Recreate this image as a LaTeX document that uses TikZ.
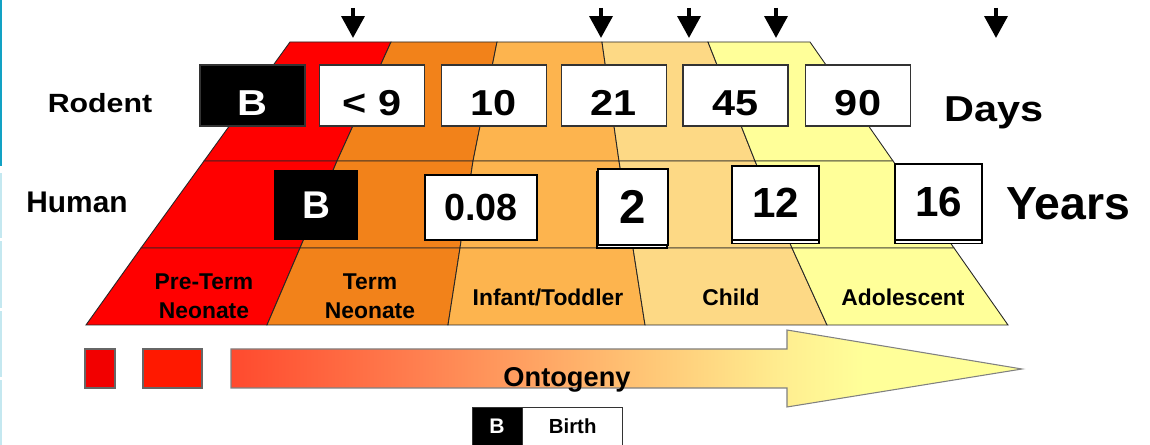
\documentclass[tikz,border=0pt]{standalone}
\usepackage{fontspec}
\setmainfont{Liberation Sans}
\newfontfamily\widesans[FakeStretch=1.15]{Liberation Sans}
\usetikzlibrary{arrows.meta,shadows,positioning}
\definecolor{stageA}{HTML}{FF0000}
\definecolor{stageB}{HTML}{F2821A}
\definecolor{stageC}{HTML}{FDB44E}
\definecolor{stageD}{HTML}{FDD985}
\definecolor{stageE}{HTML}{FFFF99}
\definecolor{ontoL}{HTML}{FF4A2E}
\definecolor{ontoQ}{HTML}{FF8050}
\definecolor{ontoM}{HTML}{FFC072}
\definecolor{ontoN}{HTML}{FFEE90}
\definecolor{ontoR}{HTML}{FFFF99}
\definecolor{slideblue}{HTML}{12A2C4}
\pgfdeclarehorizontalshading{ontogrow}{100bp}{color(0bp)=(ontoL); color(25bp)=(ontoL);
  color(37bp)=(ontoQ); color(50bp)=(ontoM); color(60bp)=(ontoN); color(65bp)=(ontoR); color(100bp)=(ontoR)}
\newcommand\fsize[2]{\fontsize{#1}{#2}\selectfont}
\tikzset{
  cell/.style={draw=black!85,line width=0.5pt},
  tick/.style={-{Triangle[width=13pt,length=12.5pt]},line width=2.3pt},
  rodbox/.style={draw=black!80,fill=white,line width=0.8pt,minimum width=2.1cm,minimum height=1.22cm,
    inner sep=0pt,text height=0.8cm,text depth=0pt,font=\widesans\bfseries\fsize{20.5pt}{24pt}},
  humbox/.style={draw=black,fill=white,line width=1.1pt,inner sep=0pt,font=\bfseries\fsize{22pt}{26pt}},
  birthbox/.style={fill=black,text=white},
  stage/.style={font=\bfseries\fsize{13pt}{16.4pt},align=center}
}
\begin{document}
\begin{tikzpicture}[x=0.02cm,y=-0.02cm]
\useasboundingbox (0,0) rectangle (1150,445);
\fill[slideblue] (0,0) rectangle (2,166);
\foreach \a/\b in {173/238,241/308,311/377,380/445} \fill[slideblue!25] (0,\a) rectangle (2,\b);
\foreach \i/\a/\b/\c/\d in {0/290/204/141/86,1/391/337/300/267,2/497/473/460/448,3/602/619/633/645,4/708/755/792/827,5/810/893/954/1008}{
  \coordinate (p\i-0) at (\a,42); \coordinate (p\i-1) at (\b,161);
  \coordinate (p\i-2) at (\c,248); \coordinate (p\i-3) at (\d,325);
}
\foreach \col [count=\i from 0] in {stageA,stageB,stageC,stageD,stageE}{
  \pgfmathtruncatemacro\j{\i+1}
  \foreach \r in {0,1,2}{
    \pgfmathtruncatemacro\s{\r+1}
    \filldraw[cell,fill=\col] (p\i-\r) -- (p\j-\r) -- (p\j-\s) -- (p\i-\s) -- cycle;
  }
}
\foreach \x [count=\n] in {353,601,689,776,996}{
  \coordinate (top\n) at (\x,8); \coordinate (tip\n) at (\x,38);
  \draw[tick] (top\n) -- (tip\n);
}
\node[anchor=base,font=\widesans\bfseries\fsize{15pt}{18pt}] (rodent) at (100,113) {Rodent};
\node[rodbox,birthbox] (rB) at (252.5,95.5) {B};
\foreach \x/\t/\n in {372/{< 9}/r9,494/10/r10,614/21/r21,735.5/45/r45,858/90/r90}
  \node[rodbox] (\n) at (\x,95.5) {\t};
\node[anchor=base,font=\widesans\bfseries\fsize{20.5pt}{24pt}] (days) at (994,122) {Days};
\node[anchor=base,font=\bfseries\fsize{17pt}{20pt}] (human) at (77,213) {Human};
\node[humbox,birthbox,draw=none,minimum width=1.68cm,minimum height=1.4cm] (hB) at (316,205) {B};
\node[humbox,font=\bfseries\fsize{21.5pt}{26pt},minimum width=2.24cm,minimum height=1.3cm] (h008) at (481,207.5) {0.08};
\node[humbox,copy shadow={shadow xshift=-0.5pt,shadow yshift=-1.5pt},font=\bfseries\fsize{27pt}{30pt},
  minimum width=1.4cm,minimum height=1.52cm] (h2) at (633,207) {2};
\node[humbox,copy shadow={shadow xshift=0pt,shadow yshift=-2pt},font=\bfseries\fsize{24pt}{28pt},
  minimum width=1.74cm,minimum height=1.48cm] (h12) at (775.5,203) {12};
\node[humbox,copy shadow={shadow xshift=0pt,shadow yshift=-2pt},font=\bfseries\fsize{24pt}{28pt},
  minimum width=1.74cm,minimum height=1.52cm] (h16) at (938.5,202) {16};
\node[anchor=base,font=\bfseries\fsize{26.4pt}{30pt}] (years) at (1068,220) {Years};
\node[stage] (preterm) at (204,296.5) {Pre-Term\\Neonate};
\node[stage] (term) at (370,296.5) {Term\\Neonate};
\node[stage,anchor=base] (infant) at (548,306) {Infant/Toddler};
\node[stage,anchor=base] (child) at (731,306) {Child};
\node[stage,anchor=base] (adol) at (903,306) {Adolescent};
\filldraw[fill=red!95!black!100,draw=black!60,line width=0.6pt] (85,349) rectangle (115,388);
\filldraw[fill=red!80!orange,draw=black!60,line width=0.6pt] (143,349) rectangle (202,388);
\shadedraw[shading=ontogrow,draw=black!50,line width=0.6pt]
  (231,349) -- (787,349) -- (787,330) -- (1022,369) -- (787,407) -- (787,388) -- (231,388) -- cycle;
\node[anchor=base,font=\bfseries\fsize{15.5pt}{18pt}] (onto) at (567,387) {Ontogeny};
\node[birthbox,draw=black!80,minimum width=1cm,minimum height=0.78cm,inner sep=0pt,
  font=\bfseries\fsize{12pt}{14pt}] (legB) at (497,426.5) {B};
\node[draw=black!80,fill=white,minimum width=2cm,minimum height=0.78cm,inner sep=0pt,
  right=0pt of legB,font=\bfseries\fsize{11.6pt}{14pt}] (legbirth) {Birth};
\end{tikzpicture}
\end{document}
